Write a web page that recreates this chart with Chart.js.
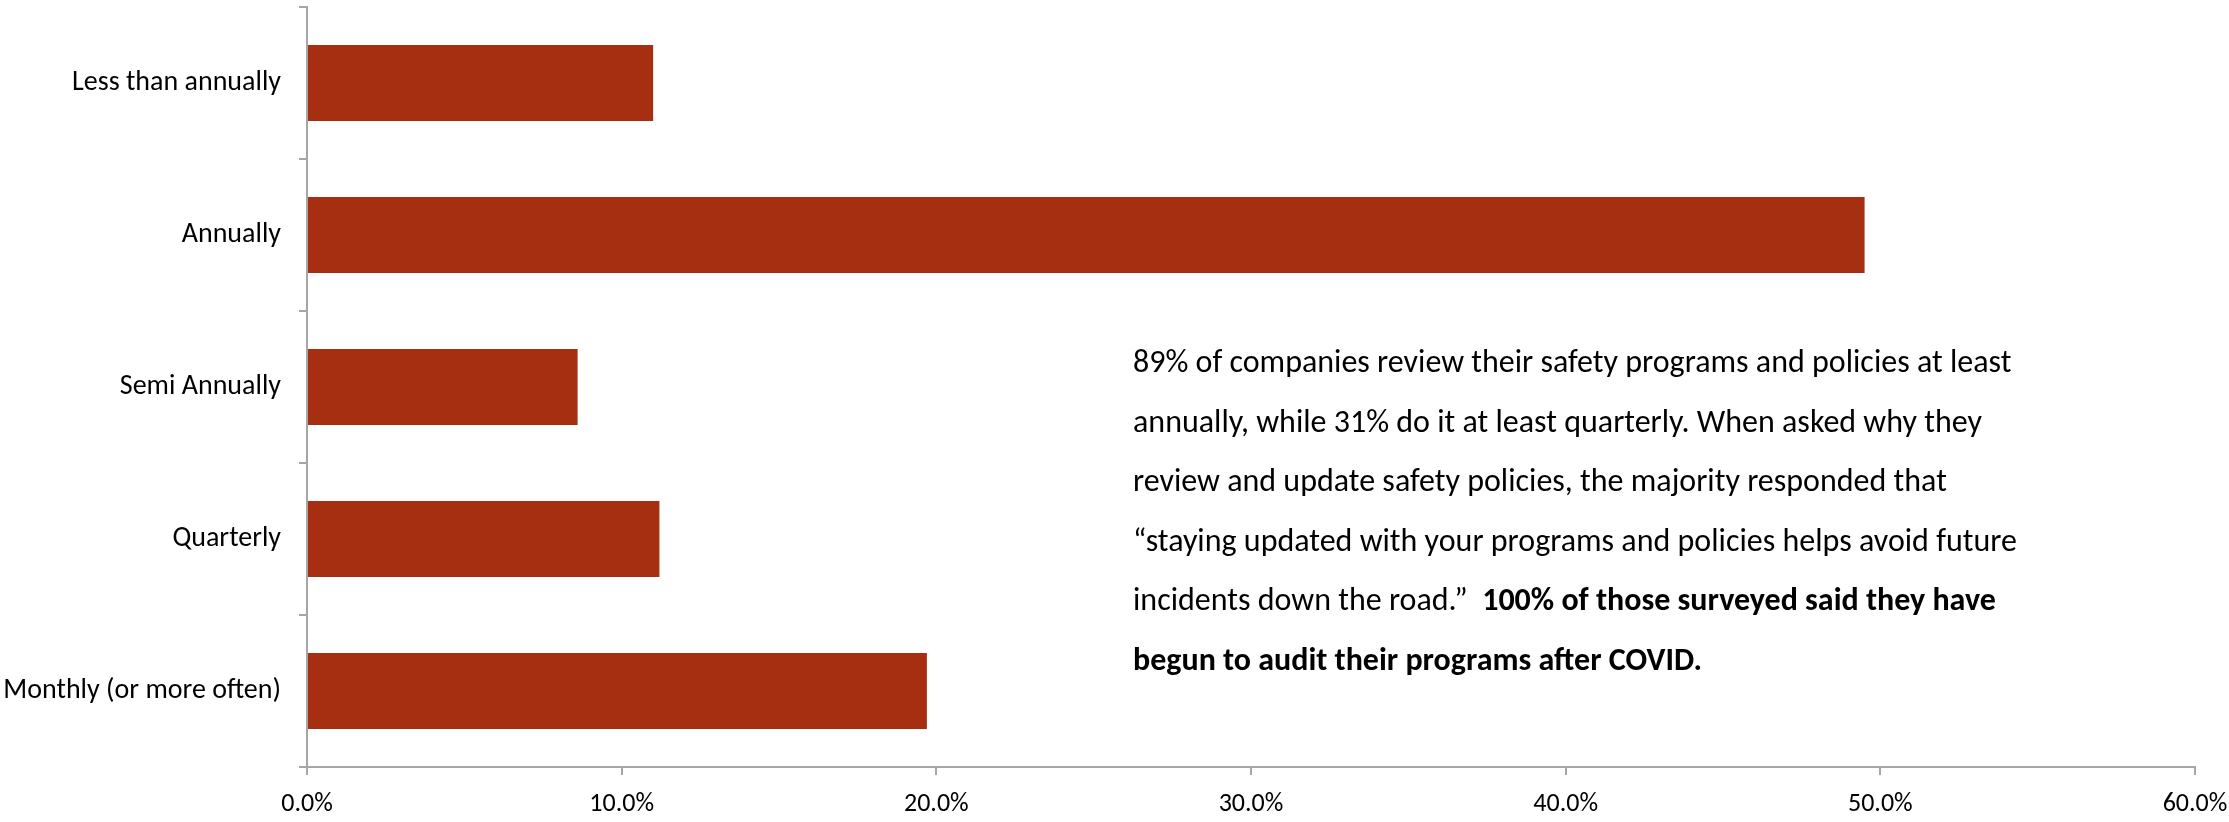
<!DOCTYPE html>
<html>
<head>
<meta charset="utf-8">
<script src="https://cdn.jsdelivr.net/npm/chart.js@4"></script>
<style>
  html, body { margin: 0; padding: 0; background: #fff; }
  #wrap { width: 2229px; height: 822px; }
</style>
</head>
<body>
<div id="wrap"><canvas id="reviewChart" width="2229" height="822"></canvas></div>
<script>
// Data
const categories = ['Less than annually', 'Annually', 'Semi Annually', 'Quarterly', 'Monthly (or more often)'];
const shares = [11.0, 49.5, 8.6, 11.2, 19.7];
const xTicks = [0, 10, 20, 30, 40, 50, 60];

const noteLines = [
  [{ t: '89% of companies review their safety programs and policies at least', b: false }],
  [{ t: 'annually, while 31% do it at least quarterly. When asked why they', b: false }],
  [{ t: 'review and update safety policies, the majority responded that', b: false }],
  [{ t: '\u201Cstaying updated with your programs and policies helps avoid future', b: false }],
  [{ t: 'incidents down the road.\u201D  ', b: false }, { t: '100% of those surveyed said they have', b: true }],
  [{ t: 'begun to audit their programs after COVID.', b: true }]
];

const FONT = 'Carlito, Calibri, Lato, sans-serif';
const axisGrey = '#a6a6a6';

// draws the text box that sits inside the plot
const notePlugin = {
  id: 'note',
  afterDraw(chart) {
    const ctx = chart.ctx;
    const x0 = 1133, y0 = 364, step = 59.5;
    ctx.save();
    ctx.fillStyle = '#000';
    ctx.textBaseline = 'middle';
    ctx.textAlign = 'left';
    noteLines.forEach((line, i) => {
      let x = x0;
      line.forEach(seg => {
        ctx.font = (seg.b ? 'bold ' : '') + '32px ' + FONT;
        ctx.fillText(seg.t, x, y0 + i * step);
        x += ctx.measureText(seg.t).width;
      });
    });
    ctx.restore();
  }
};

new Chart(document.getElementById('reviewChart'), {
  type: 'bar',
  data: {
    labels: categories,
    datasets: [{
      data: shares,
      backgroundColor: '#a52f10',
      borderWidth: 0,
      barPercentage: 0.5,
      categoryPercentage: 1.0
    }]
  },
  options: {
    indexAxis: 'y',
    responsive: false,
    animation: false,
    layout: { padding: { top: 7, right: 34, left: 0, bottom: 0 } },
    plugins: {
      legend: { display: false },
      tooltip: { enabled: false }
    },
    scales: {
      x: {
        min: 0,
        max: 60,
        afterBuildTicks: scale => { scale.ticks = xTicks.map(v => ({ value: v })); },
        afterFit: scale => {
          scale.height = 55;
          scale.paddingLeft = 0;
          scale.paddingRight = 0;
        },
        ticks: {
          color: '#000',
          font: { family: FONT, size: 26 },
          padding: 14,
          maxRotation: 0,
          callback: v => v.toFixed(1) + '%'
        },
        grid: { drawOnChartArea: false, drawTicks: true, tickLength: 8, color: axisGrey, lineWidth: 2 },
        border: { color: axisGrey, width: 2 }
      },
      y: {
        afterFit: scale => {
          scale.width = 307;
          scale.paddingTop = 0;
          scale.paddingBottom = 0;
        },
        ticks: {
          color: '#000',
          font: { family: FONT, size: 28 },
          padding: 18
        },
        grid: { drawOnChartArea: false, drawTicks: true, tickLength: 8, color: axisGrey, lineWidth: 2, offset: true },
        border: { color: axisGrey, width: 2 }
      }
    }
  },
  plugins: [notePlugin]
});
</script>
</body>
</html>
